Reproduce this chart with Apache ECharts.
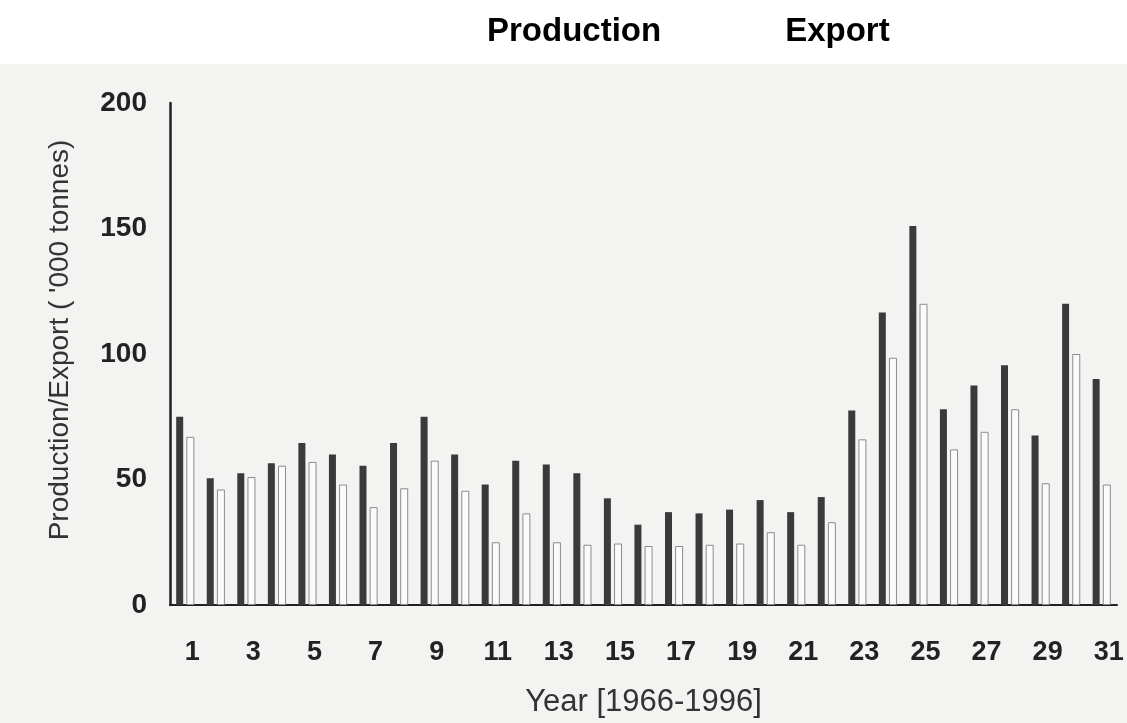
<!DOCTYPE html>
<html>
<head>
<meta charset="utf-8">
<script src="https://cdn.jsdelivr.net/npm/echarts@6/dist/echarts.min.js"></script>
<style>html,body{margin:0;padding:0;background:#fff;}#c{width:1127px;height:723px;}</style>
</head>
<body>
<div id="c"></div>
<script>
var years = ['1','2','3','4','5','6','7','8','9','10','11','12','13','14','15','16','17','18','19','20','21','22','23','24','25','26','27','28','29','30','31'];
var production = [75, 50.5, 52.5, 56.5, 64.5, 60, 55.5, 64.5, 75, 60, 48, 57.5, 56, 52.5, 42.5, 32, 37, 36.5, 38, 41.8, 37, 43, 77.5, 116.5, 151, 78, 87.5, 95.5, 67.5, 120, 90];
var exportVals = [67, 46, 51, 55.5, 57, 48, 39, 46.5, 57.5, 45.5, 25, 36.5, 25, 24, 24.5, 23.5, 23.5, 24, 24.5, 29, 24, 33, 66, 98.5, 120, 62, 69, 78, 48.5, 100, 48];
var yTicks = [0, 50, 100, 150, 200];

var chart = echarts.init(document.getElementById('c'));
chart.setOption({
  backgroundColor: '#ffffff',
  animation: false,
  graphic: [{
    type: 'rect', z: -100, silent: true,
    shape: {x: 0, y: 64, width: 1127, height: 659},
    style: {fill: '#f3f3f1'}
  }],
  legend: {
    data: ['Production', 'Export'],
    left: 477, top: 10,
    itemWidth: 0, itemHeight: 0, itemGap: 118,
    textStyle: {fontFamily: 'Liberation Sans, Arial, sans-serif', fontSize: 33, fontWeight: 'bold', color: '#000'}
  },
  grid: {left: 170, right: 10, top: 103, bottom: 115},
  xAxis: {
    type: 'category',
    data: years,
    name: 'Year [1966-1996]',
    nameLocation: 'middle',
    nameGap: 82,
    nameTextStyle: {fontFamily: 'Liberation Sans, Arial, sans-serif', fontSize: 31, color: '#333'},
    axisLine: {lineStyle: {color: '#222', width: 2}},
    axisTick: {alignWithLabel: true, interval: 0, length: 12, lineStyle: {color: '#999', width: 1}},
    axisLabel: {interval: 1, margin: 34, padding: [0, 0, 0, 14], fontFamily: 'Liberation Sans, Arial, sans-serif', fontSize: 27, fontWeight: 'bold', color: '#222'},
    splitLine: {show: false}
  },
  yAxis: {
    type: 'value',
    min: yTicks[0], max: yTicks[yTicks.length - 1], interval: 50,
    name: "Production/Export ( '000 tonnes)",
    nameLocation: 'middle',
    nameGap: 96,
    nameTextStyle: {fontFamily: 'Liberation Sans, Arial, sans-serif', fontSize: 28, color: '#333', padding: [0, 0, 0, 28]},
    axisLine: {show: true, lineStyle: {color: '#222', width: 2.5}},
    axisTick: {show: false},
    axisLabel: {margin: 23, fontFamily: 'Liberation Sans, Arial, sans-serif', fontSize: 28, fontWeight: 'bold', color: '#222'},
    splitLine: {show: false}
  },
  series: [{
    name: 'Production',
    type: 'bar',
    data: production,
    barWidth: 7,
    barGap: '45%',
    itemStyle: {color: '#3a3a3a'}
  }, {
    name: 'Export',
    type: 'bar',
    data: exportVals,
    barWidth: 8,
    itemStyle: {color: '#fbfbfb', borderColor: '#8c8c8c', borderWidth: 1}
  }]
});
</script>
</body>
</html>
